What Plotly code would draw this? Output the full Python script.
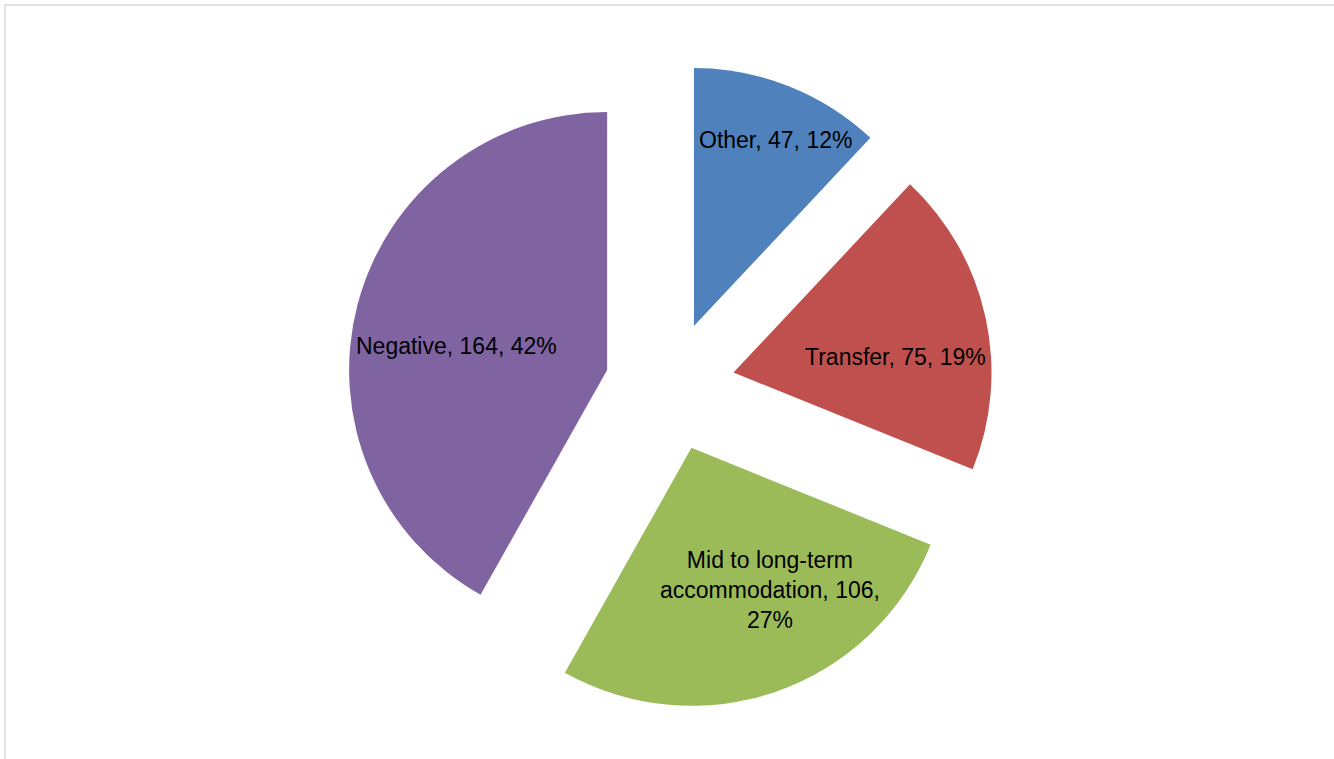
import math
import plotly.graph_objects as go

categories = ["Other", "Transfer", "Mid to long-term accommodation", "Negative"]
values = [47, 75, 106, 164]
colors = ["#4F81BD", "#C0504D", "#9BBB59", "#8064A2"]

total = sum(values)
texts = []
for c, v in zip(categories, values):
    pct = f"{round(100 * v / total)}%"
    if c == "Mid to long-term accommodation":
        texts.append(f"Mid to long-term<br>accommodation, {v},<br>{pct}")
    else:
        texts.append(f"{c}, {v}, {pct}")

W, H = 1334, 759
cx, cy = 670, 386.5
r = 258
pull = 0.252
half = r * (1 + pull)

fig = go.Figure(go.Pie(
    labels=categories,
    values=values,
    textinfo="none",
    marker=dict(colors=colors, line=dict(width=0)),
    pull=pull,
    sort=False,
    direction="clockwise",
    rotation=0,
    showlegend=False,
    hoverinfo="label+value+percent",
    domain=dict(x=[(cx - half) / W, (cx + half) / W],
                y=[1 - (cy + half) / H, 1 - (cy - half) / H]),
))

# label placement (Excel "best fit" style): radial fraction and angle tweak per slice
label_rad = [1.039, 0.880, 0.879, 0.844]
label_dang = [1.5, 4.9, -7.0, -4.0]

annotations = []
cum = 0.0
for i, v in enumerate(values):
    mid = (cum + v / 2) / total * 360.0
    cum += v
    th = math.radians(mid + label_dang[i])
    px = cx + label_rad[i] * r * math.sin(th)
    py = cy - label_rad[i] * r * math.cos(th)
    annotations.append(dict(
        x=px / W, y=1 - py / H, xref="paper", yref="paper",
        text=texts[i], showarrow=False, align="center",
        xanchor="center", yanchor="middle",
        font=dict(family="Liberation Sans, Arial, sans-serif", size=23, color="black"),
    ))

fig.update_layout(
    width=W, height=H,
    margin=dict(l=0, r=0, t=0, b=0),
    paper_bgcolor="white",
    plot_bgcolor="white",
    annotations=annotations,
    shapes=[dict(type="rect", xref="paper", yref="paper",
                 x0=5 / W, x1=1.05, y0=-0.05, y1=1 - 5 / H,
                 line=dict(color="#D9D9D9", width=1.5))],
)

fig.write_html("out.html", config={"displayModeBar": False},
               post_script="document.body.style.margin='0px';")
